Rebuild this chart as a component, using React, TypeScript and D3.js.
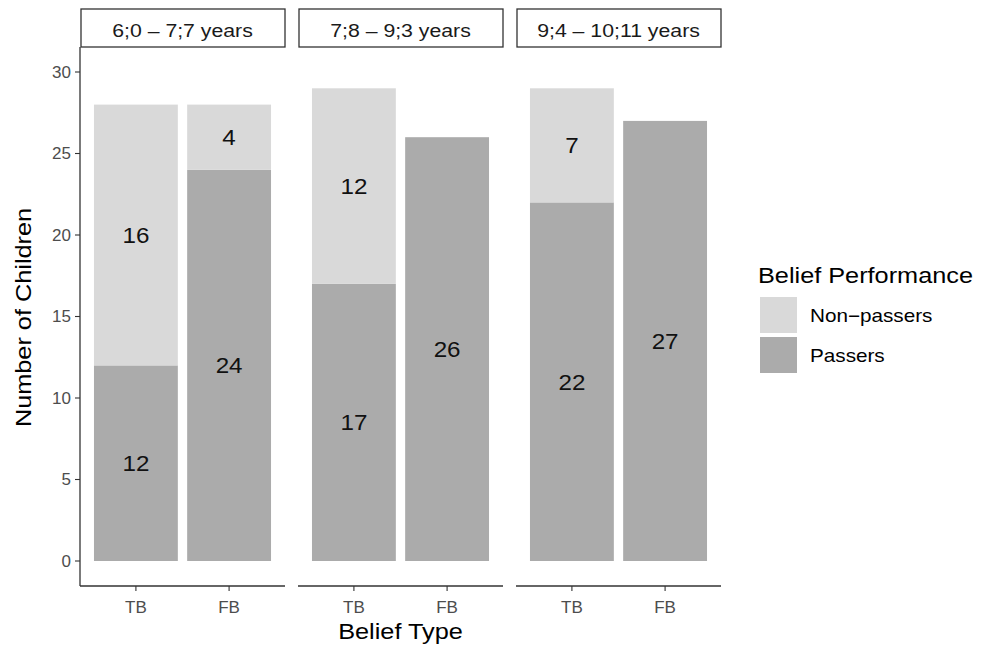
import React from "react";
import * as d3 from "d3";

const panels = ["6;0 – 7;7 years", "7;8 – 9;3 years", "9;4 – 10;11 years"];
const beliefTypes = ["TB", "FB"];
const passers = [
  [12, 24],
  [17, 26],
  [22, 27],
];
const nonPassers = [
  [16, 4],
  [12, 0],
  [7, 0],
];
const yTicks = [0, 5, 10, 15, 20, 25, 30];
const legendLabels = ["Non−passers", "Passers"];
const colors = { "Non−passers": "#d9d9d9", Passers: "#ababab" };

const W = 986;
const H = 649;
const panelLeft = 80;
const panelW = 205;
const panelGap = 13;
const panelTop = 47;
const panelBottom = 586;
const stripTop = 9;
const FONT = "Liberation Sans, Arial, Helvetica, sans-serif";

function Txt({
  x,
  y,
  rotate = 0,
  sx = 1,
  size,
  anchor = "start",
  fill = "#000",
  dy,
  children,
}: {
  x: number;
  y: number;
  rotate?: number;
  sx?: number;
  size: number;
  anchor?: string;
  fill?: string;
  dy?: string;
  children: React.ReactNode;
}) {
  return (
    <text
      transform={`translate(${x},${y}) rotate(${rotate}) scale(${sx},1)`}
      fontSize={size}
      textAnchor={anchor as any}
      fill={fill}
      dy={dy}
    >
      {children}
    </text>
  );
}

export default function App() {
  const y = d3.scaleLinear().domain([0, 30]).range([561, 72]);
  const x = d3
    .scaleBand()
    .domain(beliefTypes)
    .range([0, panelW])
    .paddingInner(0.1)
    .paddingOuter(0.15);

  return (
    <svg width={W} height={H} style={{ position: "absolute", left: 0, top: 0 }} fontFamily={FONT}>
      <rect width={W} height={H} fill="white" />
      <line x1={panelLeft} x2={panelLeft} y1={panelTop} y2={panelBottom} stroke="#333" strokeWidth={1.3} />
      {yTicks.map((t) => (
        <g key={t}>
          <line x1={panelLeft - 5} x2={panelLeft} y1={y(t)} y2={y(t)} stroke="#333" strokeWidth={1.1} />
          <Txt x={panelLeft - 9} y={y(t)} dy="0.35em" anchor="end" size={17} fill="#4d4d4d">
            {t}
          </Txt>
        </g>
      ))}
      <Txt x={31} y={(panelTop + panelBottom) / 2 + 1} rotate={-90} sx={1.15} anchor="middle" size={22}>
        Number of Children
      </Txt>
      {panels.map((p, i) => {
        const px = panelLeft + i * (panelW + panelGap);
        return (
          <g key={p} transform={`translate(${px},0)`}>
            <rect x={1} y={stripTop} width={panelW - 1} height={panelTop - stripTop} fill="white" stroke="#333" strokeWidth={1.3} />
            <Txt x={panelW / 2} y={37} anchor="middle" sx={1.15} size={18.5} fill="#1a1a1a">
              {p}
            </Txt>
            {beliefTypes.map((b, j) => {
              const pv = passers[i][j];
              const nv = nonPassers[i][j];
              const bx = x(b)!;
              const bw = x.bandwidth();
              return (
                <g key={b}>
                  <rect x={bx} y={y(pv)} width={bw} height={y(0) - y(pv)} fill={colors.Passers} />
                  {nv > 0 && (
                    <rect x={bx} y={y(pv + nv)} width={bw} height={y(pv) - y(pv + nv)} fill={colors["Non−passers"]} />
                  )}
                  <Txt x={bx + bw / 2} y={y(pv / 2)} dy="0.36em" anchor="middle" sx={1.1} size={22} fill="#111">
                    {pv}
                  </Txt>
                  {nv > 0 && (
                    <Txt x={bx + bw / 2} y={y(pv + nv / 2)} dy="0.36em" anchor="middle" sx={1.1} size={22} fill="#111">
                      {nv}
                    </Txt>
                  )}
                  <line x1={bx + bw / 2} x2={bx + bw / 2} y1={panelBottom} y2={panelBottom + 5} stroke="#333" strokeWidth={1.1} />
                  <Txt x={bx + bw / 2} y={613} anchor="middle" size={17} fill="#4d4d4d">
                    {b}
                  </Txt>
                </g>
              );
            })}
            <line x1={0} x2={panelW} y1={panelBottom} y2={panelBottom} stroke="#333" strokeWidth={1.3} />
          </g>
        );
      })}
      <Txt x={panelLeft + (3 * panelW + 2 * panelGap) / 2} y={639} anchor="middle" sx={1.15} size={22}>
        Belief Type
      </Txt>
      <Txt x={758} y={283} sx={1.15} size={22}>
        Belief Performance
      </Txt>
      {legendLabels.map((l, k) => (
        <g key={l}>
          <rect x={760} y={297 + k * 40} width={37} height={36} fill={(colors as any)[l]} />
          <Txt x={810} y={322 + k * 40} sx={1.15} size={18}>
            {l}
          </Txt>
        </g>
      ))}
    </svg>
  );
}
